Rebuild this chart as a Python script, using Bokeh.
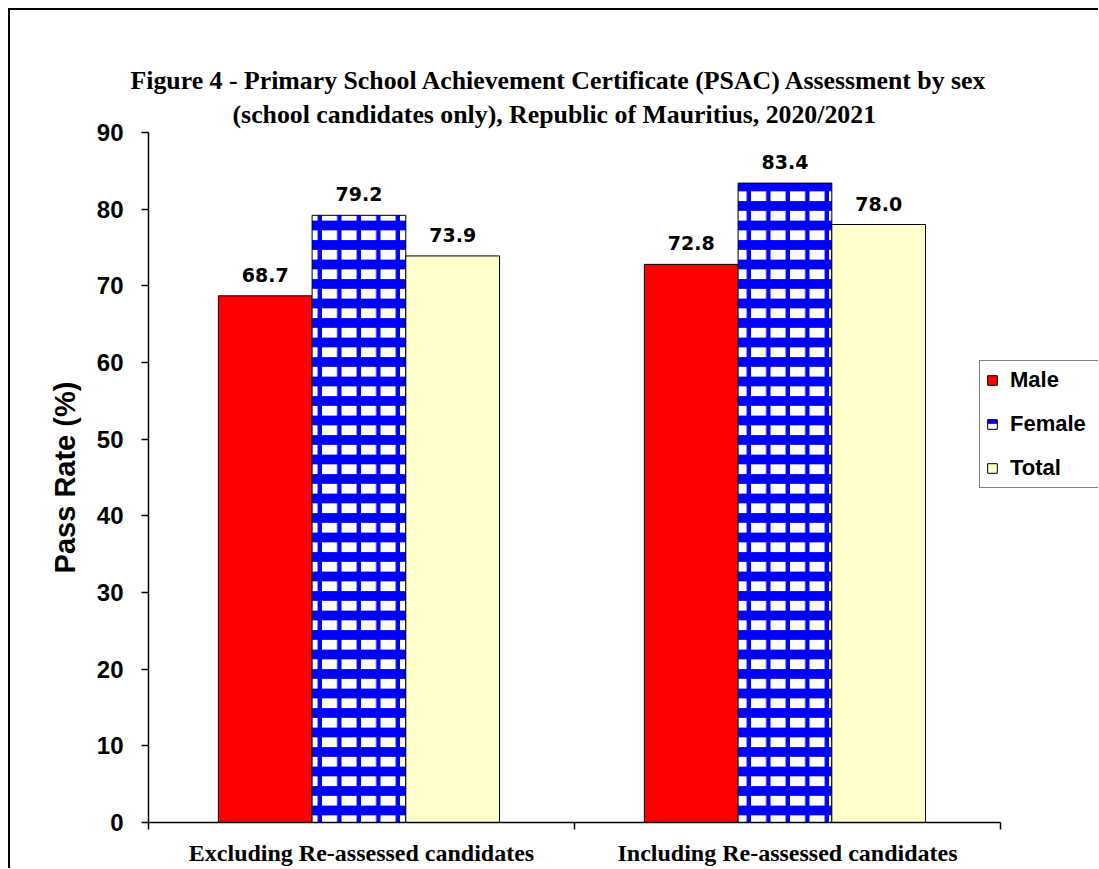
from bokeh.plotting import figure
from bokeh.models import (ColumnDataSource, Range1d, LinearAxis, FixedTicker, Legend, LegendItem, Title)
from bokeh.transform import dodge
from bokeh.core.properties import value
from bokeh.embed import file_html
from bokeh.resources import INLINE

# ---------------- data ----------------
categories = ["Excluding Re-assessed candidates", "Including Re-assessed candidates"]
series_names = ["Male", "Female", "Total"]
male = [68.7, 72.8]
female = [79.2, 83.4]
total = [73.9, 78.0]
y_ticks = [0, 10, 20, 30, 40, 50, 60, 70, 80, 90]
title_lines = [
    "Figure 4 - Primary School Achievement Certificate (PSAC) Assessment by sex",
    "(school candidates only), Republic of Mauritius, 2020/2021",
]
y_label = "Pass Rate (%)"

# ---------------- layout / styles ----------------
offsets = [-0.226, -0.006, 0.214]
bar_width = 0.22
X_END = 2.230      # frame extends to the right past the last category (room for legend)
SANS = "Liberation Sans"
SERIF = "Liberation Serif"

centers = [i + 0.5 for i in range(len(categories))]
bounds_ticks = list(range(len(categories) + 1))

src = ColumnDataSource(dict(
    xc=centers,
    Male=male, Female=female, Total=total,
    Male_lbl=[f"{v:.1f}" for v in male],
    Female_lbl=[f"{v:.1f}" for v in female],
    Total_lbl=[f"{v:.1f}" for v in total],
))

p = figure(
    x_range=Range1d(0, X_END),
    y_range=Range1d(y_ticks[0], y_ticks[-1]),
    frame_width=950, frame_height=690,
    min_border_left=138, min_border_right=0, min_border_top=122, min_border_bottom=46,
    output_backend="svg", toolbar_location=None,
    x_axis_location=None, y_axis_location="left",
    background_fill_color="white", border_fill_color="white",
)
p.styles = {"margin-left": "8px", "margin-top": "8px",
            "border-top": "2px solid #000", "border-left": "2px solid #000"}
p.outline_line_color = None
p.xgrid.visible = False
p.ygrid.visible = False

# y axis
ya = p.yaxis[0]
ya.ticker = FixedTicker(ticks=y_ticks)
ya.major_tick_in = 0
ya.major_tick_out = 7
ya.minor_tick_out = 0
ya.minor_tick_in = 0
ya.axis_line_width = 1.5
ya.axis_line_color = "black"
ya.major_tick_line_width = 1.5
ya.major_tick_line_color = "black"
ya.major_label_text_font = SANS
ya.major_label_text_font_style = "bold"
ya.major_label_text_font_size = "24px"
ya.major_label_text_color = "black"
ya.major_label_standoff = 18
ya.axis_label = y_label
ya.axis_label_text_font = SANS
ya.axis_label_text_font_style = "bold"
ya.axis_label_text_font_size = "29px"
ya.axis_label_text_color = "black"
ya.axis_label_standoff = 13

# x axis: boundary ticks
tick_axis = LinearAxis(
    ticker=FixedTicker(ticks=bounds_ticks), bounds=(bounds_ticks[0], bounds_ticks[-1]),
    major_label_overrides={t: "" for t in bounds_ticks},
    major_label_text_font_size="0px", major_label_standoff=0,
    major_tick_in=0, major_tick_out=7, minor_tick_in=0, minor_tick_out=0,
    axis_line_width=1.5, major_tick_line_width=1.5,
    axis_line_color="black", major_tick_line_color="black",
)
p.add_layout(tick_axis, "below")
# x axis: category names
cat_axis = LinearAxis(
    ticker=FixedTicker(ticks=centers),
    major_label_overrides={c: name for c, name in zip(centers, categories)},
    major_tick_line_color=None, major_tick_out=0, major_tick_in=0,
    minor_tick_line_color=None, minor_tick_out=0, minor_tick_in=0,
    axis_line_color=None,
    major_label_text_font=SERIF, major_label_text_font_style="bold",
    major_label_text_font_size="24px", major_label_text_color="black",
    major_label_standoff=10,
)
p.add_layout(cat_axis, "below")

styles = {
    "Male": dict(fill_color="#ff0000"),
    "Female": dict(fill_color="#0000ff", hatch_pattern="horizontal_dash", hatch_color="#ffffff",
                   hatch_scale=19.5, hatch_weight=9.75),
    "Total": dict(fill_color="#ffffcc"),
}

items = []
for name, off in zip(series_names, offsets):
    r = p.vbar(x=dodge("xc", off), top=name, width=bar_width, bottom=0,
               source=src, line_color="black", line_width=1, **styles[name])
    p.text(x=dodge("xc", off), y=name, text=f"{name}_lbl", source=src,
           text_align="center", text_baseline="bottom", y_offset=-14,
           text_font=value("DejaVu Sans"), text_font_style="bold", text_font_size="19px",
           text_color="black")
    items.append(LegendItem(label=name, renderers=[r]))

legend = Legend(items=items, location=(831, 334), border_line_color="black", border_line_width=1,
                background_fill_color="white", background_fill_alpha=1,
                padding=6, margin=0, spacing=18, label_height=22, label_width=82,
                glyph_width=12, glyph_height=12, label_standoff=12,
                label_text_font=SANS, label_text_font_style="bold", label_text_font_size="22px",
                label_text_color="black")
p.add_layout(legend)

# title lines: second line closest to the frame
for line, off, sto in [(title_lines[1], 84, 7), (title_lines[0], -18, 0)]:
    p.add_layout(Title(text=line, align="left", offset=off, standoff=sto,
                       text_font=SERIF, text_font_style="bold", text_font_size="25.8px",
                       text_color="black"), "above")

open("out.html", "w").write(file_html(p, INLINE))
